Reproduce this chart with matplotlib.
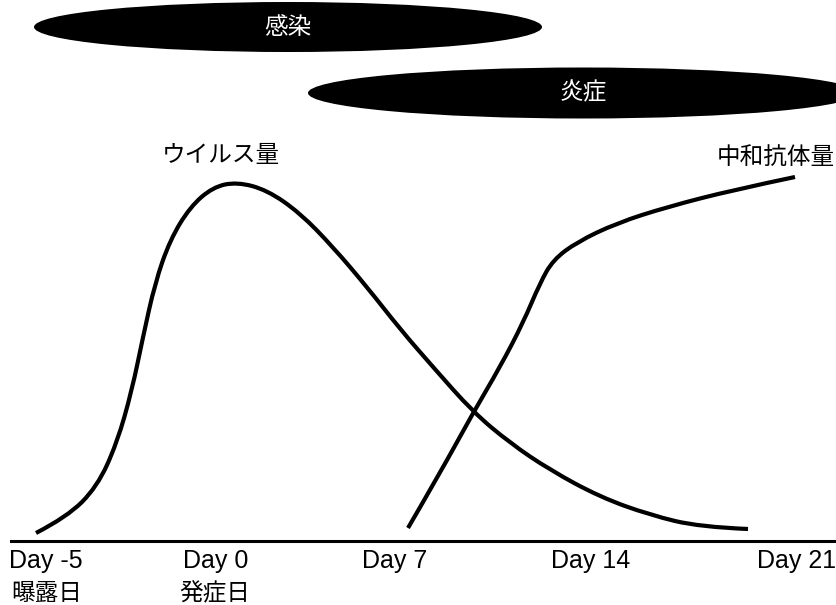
import matplotlib
matplotlib.use("Agg")
import numpy as np
import matplotlib.pyplot as plt
from matplotlib.patches import Ellipse, PathPatch
from matplotlib.path import Path

# schematic chart, coordinates are in picture units (x right, y down)
virus_x = [36, 67, 97, 117, 132, 143, 155, 170, 190, 213, 237, 267, 300,
           333, 367, 400, 433, 473, 510, 550, 600, 650, 700, 748]
virus_y = [533, 517, 487, 443, 390, 337, 283, 240, 207, 187, 182, 190, 213,
           247, 287, 329, 367, 412, 443, 470, 497, 515, 527, 529]

antibody_x = [408, 440, 473, 500, 523, 540, 553, 577, 617, 667, 733, 795]
antibody_y = [528, 473, 413, 367, 323, 283, 260, 242, 223, 207, 190, 177]

day_labels = ["Day -5", "Day 0", "Day 7", "Day 14", "Day 21"]
day_pos = [46, 216, 395, 591, 797]
event_labels = ["曝露日", "発症日"]
event_pos = [47, 215]

phase_labels = ["感染", "炎症"]
phase_x = [288, 583]
phase_y = [27, 93]
phase_w = [508, 550]
phase_h = [50, 51]

curve_labels = ["ウイルス量", "中和抗体量"]
curve_label_x = [221, 776]
curve_label_y = [155, 157]

baseline_y = 541
baseline_x = [11, 836]

JP = ["Noto Sans CJK JP", "DejaVu Sans"]
EN = ["Liberation Sans", "Noto Sans CJK JP"]


def smooth_path(xs, ys):
    # quadratic bezier through the midpoints, read points act as controls
    p = np.column_stack([xs, ys]).astype(float)
    verts = [p[0]]
    codes = [Path.MOVETO]
    n = len(p)
    for i in range(1, n - 1):
        end = p[-1] if i == n - 2 else (p[i] + p[i + 1]) / 2
        verts += [p[i], end]
        codes += [Path.CURVE3, Path.CURVE3]
    return Path(verts, codes)


fig = plt.figure(figsize=(8.36, 6.05), dpi=100)
ax = fig.add_axes([0, 0, 1, 1])
ax.set_xlim(0, 836)
ax.set_ylim(605, 0)
ax.axis("off")

# phase ellipses
for lab, cx, cy, w, h in zip(phase_labels, phase_x, phase_y, phase_w, phase_h):
    ax.add_patch(Ellipse((cx, cy), w, h, facecolor="black", edgecolor="none"))
    ax.text(cx, cy, lab, color="white", fontsize=17, family=JP,
            ha="center", va="center")

# curves
for xs, ys in [(virus_x, virus_y), (antibody_x, antibody_y)]:
    ax.add_patch(PathPatch(smooth_path(xs, ys), facecolor="none",
                           edgecolor="black", lw=3, capstyle="butt",
                           joinstyle="round"))

for lab, x, y in zip(curve_labels, curve_label_x, curve_label_y):
    ax.text(x, y, lab, fontsize=17, family=JP, ha="center", va="center")

# time axis
ax.plot(baseline_x, [baseline_y, baseline_y], color="black", lw=2.2)
for lab, x in zip(day_labels, day_pos):
    ax.text(x, 561, lab, fontsize=18, family=EN, ha="center", va="center")
for lab, x in zip(event_labels, event_pos):
    ax.text(x, 594, lab, fontsize=17, family=JP, ha="center", va="center")

fig.savefig("out.png", dpi=100)
